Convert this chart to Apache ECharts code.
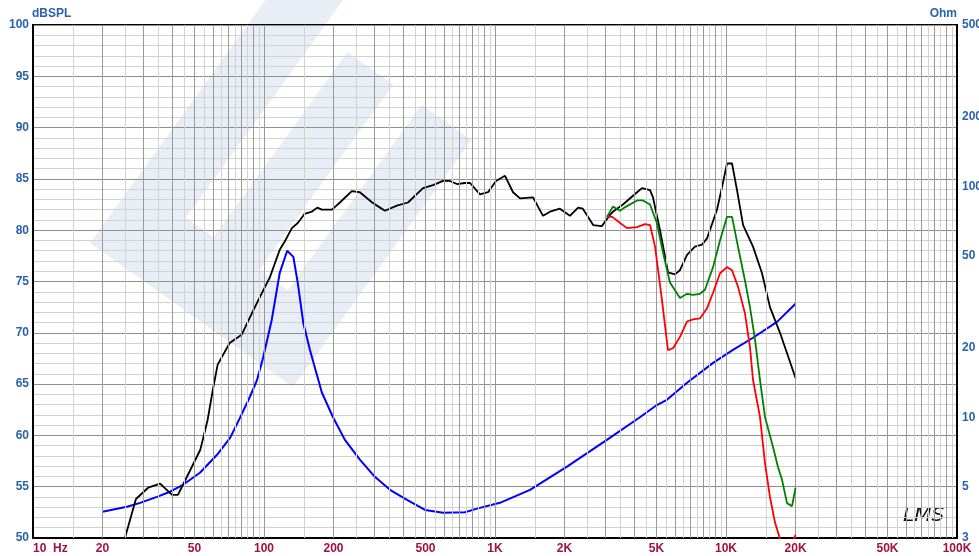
<!DOCTYPE html>
<html><head><meta charset="utf-8">
<script src="https://cdn.jsdelivr.net/npm/echarts@6/dist/echarts.min.js"></script>
<style>html,body{margin:0;padding:0;background:#fff}#c{width:979px;height:556px}</style>
</head><body><div id="c"></div>
<script>
// On-axis SPL (black)
const splFreq = [24.5,27.9,31.5,35.5,40,42.4,46,53,57,60,63,71,80,89,98,106,117,123,132,140,150,161,170,178,197,213,240,260,294,318,334,376,420,488,539,596,638,684,741,780,861,933,1010,1105,1197,1283,1461,1614,1730,1910,2110,2290,2400,2660,2900,3150,3240,3580,4120,4330,4690,4830,5180,5610,6010,6320,6780,7340,7870,8280,9140,9610,10100,10620,11160,11860,13090,14320,15500,17130,20000];
const splDb = [49.3,53.8,54.9,55.3,54.2,54.2,55.8,58.6,61.5,64.4,66.9,69.0,69.8,72.0,73.9,75.4,78.1,78.9,80.2,80.7,81.6,81.8,82.2,82.0,82.0,82.7,83.8,83.7,82.7,82.2,81.9,82.4,82.7,84.1,84.4,84.8,84.8,84.5,84.6,84.6,83.5,83.7,84.8,85.3,83.7,83.1,83.2,81.4,81.8,82.1,81.4,82.2,82.1,80.5,80.4,81.5,81.8,82.5,83.7,84.1,83.9,83.2,80.0,75.9,75.7,76.1,77.6,78.4,78.6,79.2,82.0,84.2,86.5,86.5,83.9,80.5,78.4,75.8,72.5,70.0,65.6];
// Off-axis 30° (green)
const greenFreq = [3050,3240,3480,3630,4120,4370,4690,5020,5340,5720,6320,6780,7200,7710,8110,8790,9420,10100,10620,11270,12080,12700,13360,14030,14750,15970,16800,17470,18370,19310,20000];
const greenDb = [81.3,82.3,81.9,82.2,82.9,82.9,82.5,80.7,77.8,74.9,73.4,73.8,73.7,73.8,74.2,76.4,79.0,81.3,81.3,78.4,75.1,72.5,69.3,65.4,61.8,58.9,56.9,55.7,53.4,53.1,54.9];
// Off-axis 60° (red)
const redFreq = [3050,3220,3480,3730,4120,4460,4690,4930,5280,5610,5900,6320,6780,7200,7710,8280,8790,9420,10100,10620,11270,12080,12700,13090,14030,14750,15500,16300,17130,18000,19000,20000];
const redDb = [81.3,81.3,80.7,80.2,80.3,80.6,80.5,78.4,73.2,68.3,68.5,69.6,71.1,71.3,71.4,72.4,73.9,75.8,76.4,76.1,74.5,71.9,68.6,65.4,61.8,57.3,54.0,51.5,49.9,48.8,48.9,50.3];
// Impedance (blue, right axis)
const impFreq = [20,25.5,29.1,34.4,39.2,44.6,52.8,62.6,71.3,78.7,87,93.3,99.1,108,117,126,134,140,148,158,178,199,224,260,302,351,416,498,596,741,836,1050,1418,2050,3050,4240,5020,5550,6780,8790,10720,13090,16630,20000];
const impOhm = [3.90,4.10,4.26,4.52,4.76,5.10,5.75,6.88,8.14,9.94,12.3,14.5,18.1,26.4,42.2,52.6,49.5,38.2,25.6,19.6,12.8,10.0,7.98,6.55,5.52,4.85,4.39,3.97,3.86,3.88,4.02,4.26,4.85,6.11,7.98,10.0,11.3,11.9,14.1,17.2,19.6,22.1,25.9,31.0];
// Tick labels
const xTickValues = [10,20,50,100,200,500,1000,2000,5000,10000,20000,50000,100000];
const xTickLabels = ['10  Hz','20','50','100','200','500','1K','2K','5K','10K','20K','50K','100K'];
const ohmTicks = [3,5,10,20,50,100,200,500];

const pair = (a,b) => a.map((v,i)=>[v,b[i]]);
const FONT = 'Arial, "Liberation Sans", sans-serif';
const BLUE = '#2a62ae', RED = '#a3123f';

// vertical grid lines (log grid: every 5 units per decade)
const vLines = [];
for (let d = 10; d < 100000; d *= 10) {
  for (let m = 1; m <= 10; m += 0.5) {
    const v = +(m * d).toPrecision(6);
    if (v <= 10 || v >= 100000) continue;
    const major = Number.isInteger(m);
    vLines.push({xAxis: v, lineStyle: {color: major ? '#9a9a9a' : '#d2d2d2', width: 1, type: 'solid'}});
  }
}

// watermark (rotated comb-like "E")
const T=[210,77], U=[0.815,0.578], V=[-0.585,0.81];
const P=(u,v)=>[T[0]+u*U[0]+v*V[0], T[1]+u*U[1]+v*V[1]];
const ePts = [[0,-150],[0,205],[249,205],[249,-100],[188,-100],[188,129],[153,129],[153,-100],[97,-100],[97,129],[63,129],[63,-150]].map(p=>P(p[0],p[1]));

const chart = echarts.init(document.getElementById('c'), null, {renderer:'canvas'});
chart.setOption({
  animation: false,
  backgroundColor: '#fff',
  grid: {left: 33, right: 22, top: 25, bottom: 18, outerBoundsMode: 'none', containLabel: false, show: true, borderColor: '#000', borderWidth: 2, backgroundColor: 'transparent'},
  graphic: [
    {type:'polygon', z:-10, silent:true, shape:{points: ePts}, style:{fill:'#e8edf6'}},
    {type:'text', left: 32, top: 8, style:{text:'dBSPL', fill: BLUE, font: 'bold 12px ' + FONT}},
    {type:'text', right: 22, top: 8, style:{text:'Ohm', fill: BLUE, font: 'bold 12px ' + FONT}},
    {type:'text', left: 903, top: 506, style:{text:'LMS', fill:'#111', font: 'italic 20px "DejaVu Sans", sans-serif'}}
  ],
  xAxis: {
    type: 'log', logBase: 10, min: 10, max: 100000,
    axisLine: {show: true, lineStyle: {color: '#000', width: 2}},
    axisTick: {show: false},
    splitLine: {show: true, lineStyle: {color: '#9a9a9a', width: 1}},
    axisLabel: {
      customValues: xTickValues,
      formatter: v => { const i = xTickValues.findIndex(t => Math.abs(t - v) / t < 1e-6); return i >= 0 ? xTickLabels[i] : ''; },
      color: RED, fontWeight: 'bold', fontSize: 12, fontFamily: FONT, margin: 5,
      alignMinLabel: 'left'
    }
  },
  yAxis: [
    {
      type: 'value', min: 50, max: 100, interval: 5,
      axisLine: {show: true, lineStyle: {color: '#000', width: 2}},
      axisTick: {show: false},
      axisLabel: {color: BLUE, fontWeight: 'bold', fontSize: 12, fontFamily: FONT, margin: 4},
      splitLine: {show: true, lineStyle: {color: '#8f8f8f', width: 1}},
      minorTick: {show: false, splitNumber: 5},
      minorSplitLine: {show: true, lineStyle: {color: '#d2d2d2', width: 1}}
    },
    {
      type: 'log', logBase: 10, min: 3, max: 500, position: 'right',
      axisLine: {show: true, lineStyle: {color: '#000', width: 2}},
      axisTick: {show: false},
      splitLine: {show: false},
      axisLabel: {customValues: ohmTicks, color: BLUE, fontWeight: 'bold', fontSize: 12, fontFamily: FONT, margin: 5}
    }
  ],
  series: [
    {type: 'line', data: [], silent: true, z: 1,
     markLine: {silent: true, symbol: ['none','none'], label: {show: false}, animation: false, data: vLines}},
    {name: 'Impedance', type: 'line', yAxisIndex: 1, data: pair(impFreq, impOhm), showSymbol: false, lineStyle: {color: '#0000ff', width: 2}, z: 3},
    {name: 'SPL 0°', type: 'line', data: pair(splFreq, splDb), showSymbol: false, lineStyle: {color: '#000', width: 1.8}, z: 4},
    {name: 'SPL 30°', type: 'line', data: pair(greenFreq, greenDb), showSymbol: false, lineStyle: {color: '#008000', width: 1.8}, z: 5},
    {name: 'SPL 60°', type: 'line', data: pair(redFreq, redDb), showSymbol: false, lineStyle: {color: '#ff0000', width: 1.8}, z: 6}
  ]
});
</script>
</body></html>
